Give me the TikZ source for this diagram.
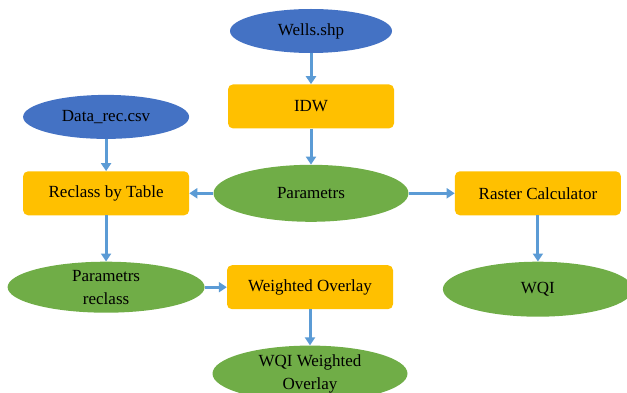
\documentclass[tikz,border=0pt]{standalone}
\usepackage{fontspec}
\setmainfont{Liberation Serif}
\usepackage{tikz}
\usetikzlibrary{shapes.geometric, arrows.meta, positioning}

\definecolor{datablue}{HTML}{4472C4}
\definecolor{toolorange}{HTML}{FFC000}
\definecolor{outgreen}{HTML}{70AD47}
\definecolor{arrowblue}{HTML}{5B9BD5}

\begin{document}
\begin{tikzpicture}[x=1pt, y=1pt, font=\fontsize{17}{23}\selectfont, >={Triangle[width=10pt,length=8pt]},
  datafile/.style={ellipse, fill=datablue, inner sep=0pt, minimum width=162pt, minimum height=44pt},
  toolbox/.style={rectangle, rounded corners=5pt, fill=toolorange, inner sep=0pt, minimum width=166pt, minimum height=44pt},
  result/.style={ellipse, fill=outgreen, inner sep=0pt, align=center, minimum width=195pt, minimum height=57pt},
  flow/.style={->, line width=3pt, draw=arrowblue}]

\useasboundingbox (0,0) rectangle (627,-393);

\node[datafile] (wells) at (311,-31) {Wells.shp};
\node[toolbox, below=31pt of wells] (idw) {IDW};
\node[result, below=36pt of idw] (params) {Parametrs};
\node[toolbox, left=24pt of params] (reclass) {Reclass by Table};
\node[datafile, above=32pt of reclass, minimum width=166pt] (datarec) {Data\_rec.csv};
\node[toolbox, right=46pt of params] (raster) {Raster Calculator};
\node[result, below=46pt of raster, minimum width=190pt, minimum height=55pt] (wqi) {WQI};
\node[result, below=46pt of reclass, minimum width=197pt, minimum height=51pt] (preclass) {Parametrs\\reclass};
\node[toolbox, right=22pt of preclass] (overlay) {Weighted Overlay};
\node[result, below=36pt of overlay, minimum height=56pt] (wqiover) {WQI Weighted\\Overlay};

\draw[flow] (wells) -- (idw);
\draw[flow] (idw) -- (params);
\draw[flow] (datarec) -- (reclass);
\draw[flow] (params) -- (reclass);
\draw[flow] (params) -- (raster);
\draw[flow] (raster) -- (wqi);
\draw[flow] (reclass) -- (preclass);
\draw[flow] (preclass) -- (overlay);
\draw[flow] (overlay) -- (wqiover);

\end{tikzpicture}
\end{document}
